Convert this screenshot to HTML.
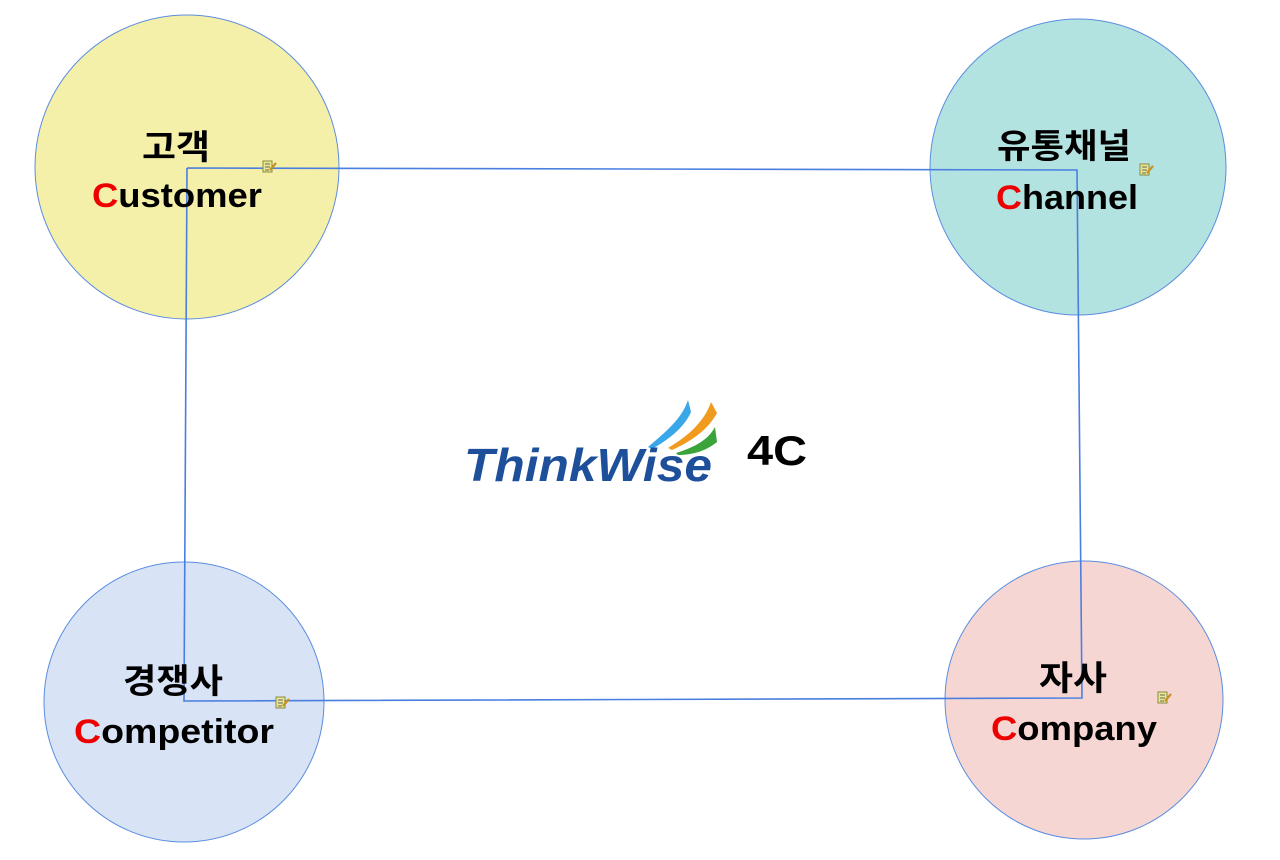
<!DOCTYPE html>
<html><head><meta charset="utf-8"><style>
html,body{margin:0;padding:0;background:#fff;width:1280px;height:860px;overflow:hidden}
svg text{font-family:"Liberation Sans","Noto Sans CJK KR",sans-serif;font-weight:bold}
</style></head><body>
<svg width="1280" height="860" viewBox="0 0 1280 860" xmlns="http://www.w3.org/2000/svg">
<defs>
<g id="note">
<rect x="0" y="0" width="9" height="11" fill="#e8e890" stroke="#8a8a40" stroke-width="1"/>
<line x1="2" y1="3" x2="7" y2="3" stroke="#666" stroke-width="1"/>
<line x1="2" y1="6" x2="7" y2="6" stroke="#666" stroke-width="1"/>
<line x1="2" y1="9" x2="6" y2="9" stroke="#666" stroke-width="1"/>
<line x1="7" y1="9" x2="13" y2="2" stroke="#c89020" stroke-width="2.2"/>
</g>
</defs>
<circle cx="187" cy="167" r="152" fill="#f5f0a9" stroke="#5b8de0" stroke-width="1"/>
<circle cx="1078" cy="167" r="148" fill="#b3e3e0" stroke="#5b8de0" stroke-width="1"/>
<circle cx="184" cy="702" r="140" fill="#d8e3f5" stroke="#5b8de0" stroke-width="1"/>
<circle cx="1084" cy="700" r="139" fill="#f6d6d3" stroke="#5b8de0" stroke-width="1"/>

<polyline points="187,168 1077,170 1082,698 184,701 187,168" fill="none" stroke="#4a7fe0" stroke-width="1.6"/>

<text x="142" y="159" font-size="34" textLength="68" lengthAdjust="spacingAndGlyphs">고객</text>
<text x="92" y="207" font-size="34" textLength="170" lengthAdjust="spacingAndGlyphs"><tspan fill="#ee0000">C</tspan>ustomer</text>
<use href="#note" x="263" y="161"/>

<text x="997" y="158" font-size="34" textLength="134" lengthAdjust="spacingAndGlyphs">유통채널</text>
<text x="996" y="209" font-size="34" textLength="142" lengthAdjust="spacingAndGlyphs"><tspan fill="#ee0000">C</tspan>hannel</text>
<use href="#note" x="1140" y="164"/>

<text x="123" y="693" font-size="34" textLength="100" lengthAdjust="spacingAndGlyphs">경쟁사</text>
<text x="74" y="743" font-size="34" textLength="200" lengthAdjust="spacingAndGlyphs"><tspan fill="#ee0000">C</tspan>ompetitor</text>
<use href="#note" x="276" y="697"/>

<text x="1039" y="690" font-size="34" textLength="68" lengthAdjust="spacingAndGlyphs">자사</text>
<text x="991" y="740" font-size="34" textLength="166" lengthAdjust="spacingAndGlyphs"><tspan fill="#ee0000">C</tspan>ompany</text>
<use href="#note" x="1158" y="692"/>

<path d="M648,447 C668,430 682,418 688,400 L691,412 C684,428 668,440 652,449 Z" fill="#3aa8e8"/>
<path d="M668,448 C690,435 705,420 711,402 L717,413 C708,430 690,442 672,450 Z" fill="#f09a1e"/>
<path d="M676,453 C695,447 708,440 715,427 L717,442 C705,452 690,455 678,455 Z" fill="#3aa43a"/>
<text x="464" y="481" font-size="46" fill="#1d4f9a" font-style="italic" textLength="248" lengthAdjust="spacingAndGlyphs">ThinkWise</text>
<text x="747" y="465" font-size="42" fill="#000" textLength="60" lengthAdjust="spacingAndGlyphs">4C</text>
</svg>
</body></html>
